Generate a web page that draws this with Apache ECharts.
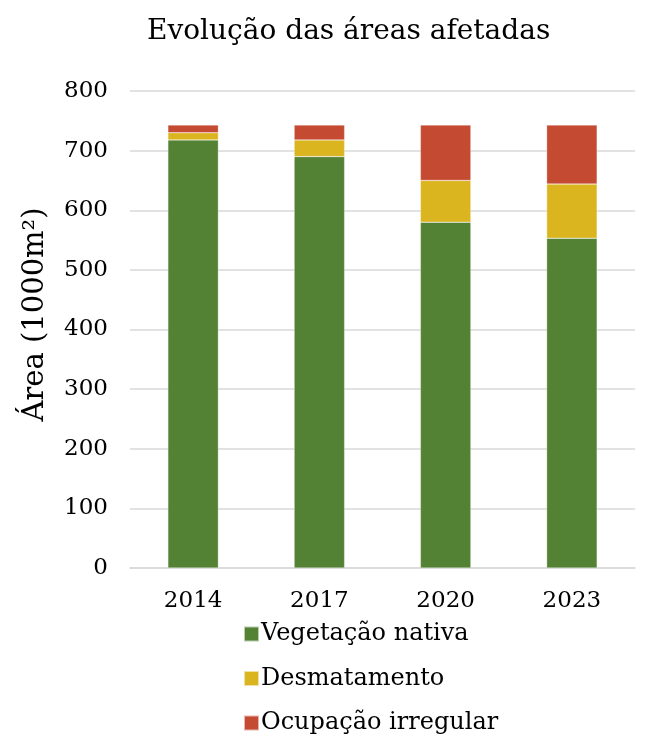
<!DOCTYPE html>
<html><head><meta charset="utf-8">
<script src="https://cdn.jsdelivr.net/npm/echarts@6/dist/echarts.min.js"></script>
<style>html,body{margin:0;padding:0;background:#fff}#c{width:646px;height:736px}</style>
</head><body><div id="c"></div>
<script>
const categories = ['2014', '2017', '2020', '2023'];
const vegetacao = [718, 690, 580, 553];
const desmatamento = [12, 28, 70, 91];
const ocupacao = [13, 25, 93, 99];
const seriesNames = ['Vegetação nativa', 'Desmatamento', 'Ocupação irregular'];
const yTicks = [0, 100, 200, 300, 400, 500, 600, 700, 800];

const FONT = 'DejaVu Serif';
const colors = ['#548235', '#DAB520', '#C54A32'];
const chart = echarts.init(document.getElementById('c'), null, {renderer: 'canvas'});
const mk = (name, data, i) => ({
  name, type: 'bar', stack: 'a', data, barWidth: '40%',
  itemStyle: {color: colors[i], borderColor: 'rgba(255,255,255,0.6)', borderWidth: 0.5},
  emphasis: {disabled: true}
});
chart.setOption({
  animation: false,
  title: {text: 'Evolução das áreas afetadas', left: 142, top: 13,
    textStyle: {fontFamily: FONT, fontSize: 28, fontWeight: 'normal', color: '#000'}},
  grid: {left: 130, right: 11, top: 91, bottom: 168, containLabel: false},
  legend: {orient: 'vertical', left: 238, top: 617, height: 130, itemWidth: 15, itemHeight: 15, itemGap: 20.5,
    icon: 'rect', data: seriesNames,
    textStyle: {fontFamily: FONT, fontSize: 24, color: '#000', padding: [0, 0, 0, -3]}},
  xAxis: {type: 'category', data: categories,
    axisLine: {lineStyle: {color: '#d9d9d9', width: 1.5}}, axisTick: {show: false},
    axisLabel: {fontFamily: FONT, fontSize: 23, color: '#000', margin: 22}},
  yAxis: {type: 'value', min: yTicks[0], max: yTicks[yTicks.length - 1], interval: 100,
    name: 'Área (1000m²)', nameLocation: 'middle', nameGap: 80,
    nameTextStyle: {fontFamily: FONT, fontSize: 29, color: '#000', padding: [0, 0, 0, 30]},
    axisLine: {show: false}, axisTick: {show: false},
    splitLine: {lineStyle: {color: '#d9d9d9', width: 1.5}},
    axisLabel: {fontFamily: FONT, fontSize: 23, color: '#000', margin: 22}},
  series: [mk(seriesNames[0], vegetacao, 0), mk(seriesNames[1], desmatamento, 1), mk(seriesNames[2], ocupacao, 2)]
});
</script></body></html>
